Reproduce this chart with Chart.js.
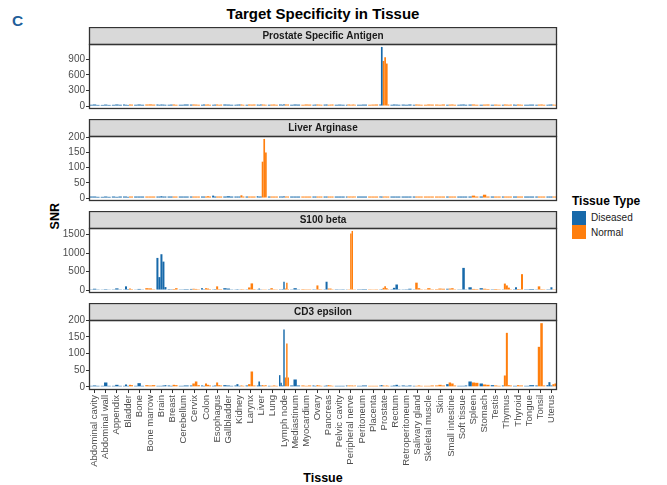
<!DOCTYPE html>
<html>
<head>
<meta charset="utf-8">
<script src="https://cdn.jsdelivr.net/npm/chart.js@4.4.1/dist/chart.umd.min.js"></script>
<style>
  html, body { margin: 0; padding: 0; background: #fff; }
  body { width: 667px; height: 485px; position: relative; overflow: hidden; font-family: 'Liberation Sans', Arial, sans-serif; }
  canvas { position: absolute; left: 0; }
  .txt { position: absolute; white-space: nowrap; line-height: 1; }
  .key { position: absolute; width: 14px; height: 14px; }
</style>
</head>
<body>
<div class="txt" style="left:12px;top:13px;font-size:15.5px;font-weight:bold;color:#1f5f9a">C</div>
<div class="txt" style="left:89px;width:468px;text-align:center;top:6.3px;font-size:15px;font-weight:bold;color:#000">Target Specificity in Tissue</div>
<div class="txt" style="left:89px;width:468px;text-align:center;top:472.4px;font-size:12.5px;font-weight:bold;color:#000">Tissue</div>
<div class="txt" style="left:24.7px;width:60px;height:12.5px;text-align:center;top:210.45px;font-size:12.5px;font-weight:bold;color:#000;transform:rotate(-90deg)">SNR</div>

<div class="txt" style="left:572px;top:194.8px;font-size:12px;font-weight:bold;color:#000">Tissue Type</div>
<div class="key" style="left:572px;top:211px;background:#1769aa"></div>
<div class="key" style="left:572px;top:225px;background:#ff7f0e"></div>
<div class="txt" style="left:591px;top:213.1px;font-size:10px;color:#1a1a1a">Diseased</div>
<div class="txt" style="left:591px;top:228.1px;font-size:10px;color:#1a1a1a">Normal</div>

<canvas id="p0" width="667" height="89" style="top:27px"></canvas>
<canvas id="p1" width="667" height="89" style="top:119px"></canvas>
<canvas id="p2" width="667" height="89" style="top:211px"></canvas>
<canvas id="p3" width="667" height="182" style="top:303px"></canvas>

<script>
const blue = '#1769aa';
const orange = '#ff7f0e';

const tissues = ['Abdominal cavity', 'Abdominal wall', 'Appendix', 'Bladder', 'Bone', 'Bone marrow', 'Brain', 'Breast',
  'Cerebellum', 'Cervix', 'Colon', 'Esophagus', 'Gallbladder', 'Kidney', 'Larynx', 'Liver', 'Lung', 'Lymph node',
  'Mediastinum', 'Myocardium', 'Ovary', 'Pancreas', 'Pelvic cavity', 'Peripheral nerve', 'Peritoneum', 'Placenta',
  'Prostate', 'Rectum', 'Retroperitoneum', 'Salivary gland', 'Skeletal muscle', 'Skin', 'Small intestine',
  'Soft tissue', 'Spleen', 'Stomach', 'Testis', 'Thymus', 'Thyroid', 'Tongue', 'Tonsil', 'Uterus'];

const panelTitles = ['Prostate Specific Antigen', 'Liver Arginase', 'S100 beta', 'CD3 epsilon'];

const psaTicks = [0, 300, 600, 900];
const argTicks = [0, 50, 100, 150, 200];
const s100Ticks = [0, 500, 1000, 1500];
const cd3Ticks = [0, 50, 100, 150, 200];

// one list of samples per tissue
const psaDiseased = [[25, 30, 22], [22, 28, 22], [24, 30, 25], [30, 25, 22], [25, 30, 25], [], [30, 25, 30, 28, 25], [25, 28],
  [25, 30], [28], [25, 30], [25, 28], [30, 28, 25], [25, 28, 30], [25], [28, 25, 30], [25], [30, 28, 25, 35],
  [25, 30, 28], [], [25, 28], [28, 30], [25, 28, 25], [25], [25, 28], [], [30, 1140], [25, 30, 28, 25],
  [28, 25, 30], [25], [], [], [25], [25, 28, 30, 25], [28], [25], [25], [25], [28, 25], [25, 28], [25], [25, 28, 30]];
const psaNormal = [[], [], [], [30, 28], [], [30, 32, 28], [], [30, 25],
  [], [30, 28, 25], [28, 30, 25], [30, 25, 28], [], [30, 25], [30, 28, 30], [30, 28, 25], [28, 30, 25], [30, 28, 30],
  [], [25, 30, 28], [30, 28, 25], [25, 28, 30], [], [28, 30, 25, 28, 30, 25], [], [25, 28, 30], [870, 940, 820, 30], [],
  [], [30, 28, 25], [25, 30, 28], [28, 25, 30], [28, 30, 25], [], [30, 25], [28, 30], [28, 25], [30, 28, 25, 28], [30, 28, 25], [], [28, 30, 25], [28, 25]];

const argDiseased = [[5, 5, 4], [4, 5, 4], [5, 4, 5], [5, 5, 4], [5, 5, 5], [], [5, 5, 6, 5, 5], [5, 5],
  [5, 5], [5], [5, 5], [8, 5], [5, 6, 5], [5, 5, 5], [5], [6, 5, 5], [5], [5, 5, 5, 6],
  [5, 5, 5], [], [5, 5], [5, 5], [5, 5, 5], [5], [5, 5], [], [5, 5], [5, 5, 5, 5],
  [5, 5, 5], [5], [], [], [5], [5, 5, 5, 5], [5], [5], [5], [5], [5, 5], [5, 5], [5], [5, 5, 5]];
const argNormal = [[], [], [], [5, 5], [], [5, 5, 5], [], [5, 5],
  [], [5, 5, 5], [5, 6, 5], [5, 5, 5], [], [9, 5], [5, 5, 5], [120, 195, 150], [5, 5, 5], [5, 5, 5],
  [], [5, 5, 5], [5, 5, 5], [5, 5, 5], [], [5, 5, 5, 5, 5, 5], [], [5, 5, 5], [5, 5, 5, 5], [],
  [], [5, 5, 5], [5, 5, 5], [5, 5, 5], [5, 5, 5], [], [8, 5], [11, 5], [5, 5], [5, 5, 5, 5], [5, 5, 5], [], [5, 5, 5], [5, 5]];

const s100Diseased = [[20, 35, 20], [18, 25, 18], [20, 45, 20], [20, 100, 25], [18, 30, 18], [], [870, 350, 970, 770, 80], [25, 22],
  [20, 25], [30], [50, 22], [20, 25], [50, 40, 20], [20, 25, 18], [20], [20, 40, 22], [22], [22, 22, 25, 225],
  [20, 50, 20], [], [22, 20], [22, 225], [22, 20, 22], [20], [22, 25], [], [22, 25], [22, 60, 150, 22],
  [20, 22, 35], [20], [], [], [35], [20, 20, 600, 20], [75], [50], [22], [20], [22, 75], [22, 28], [20], [22, 22, 75]];
const s100Normal = [[], [], [], [40, 25], [], [50, 45, 22], [], [28, 50],
  [], [35, 30, 22], [50, 40, 25], [100, 25, 25], [], [25, 22], [70, 180, 25], [20, 20, 20], [50, 22, 20], [40, 200, 25],
  [], [25, 22, 22], [125, 25, 22], [40, 40, 22], [], [22, 22, 1530, 1600, 22, 20], [], [22, 20, 22], [60, 100, 50, 22], [],
  [], [200, 50, 22], [20, 50, 22], [25, 40, 35], [40, 50, 22], [], [30, 25], [35, 28], [28, 22], [175, 125, 65, 22], [28, 25, 430], [], [100, 25, 22], [22, 20]];

const cd3Diseased = [[3, 4, 3], [3, 13, 3], [3, 6, 3], [3, 7, 3], [3, 11, 3], [], [3, 3, 3, 4, 5], [4, 3],
  [3, 4], [4], [4, 3], [3, 4], [5, 4, 3], [4, 8, 3], [4], [4, 16, 4], [3], [35, 12, 4, 172],
  [4, 22, 4], [], [4, 3], [3, 4], [3, 3, 3], [4], [3, 4], [], [4, 5], [3, 4, 6, 3],
  [4, 3, 4], [3], [], [], [8], [3, 3, 3, 4], [16], [10], [5], [4], [3, 3], [3, 5], [4], [5, 14, 4]];
const cd3Normal = [[], [], [], [6, 5], [], [5, 4, 5], [], [6, 5],
  [], [10, 16, 5], [10, 6, 4], [13, 5, 4], [], [4, 3], [8, 46, 4], [5, 4, 5], [3, 4, 3], [28, 130, 28],
  [], [4, 3, 4], [5, 4, 3], [5, 4, 3], [], [4, 4, 4, 4, 3, 4], [], [3, 3, 3], [4, 3, 4, 3], [],
  [], [3, 4, 3], [3, 3, 4], [4, 6, 4], [13, 10, 4], [], [13, 12], [7, 6], [4, 3], [34, 162, 5, 4], [5, 4, 4], [], [120, 191, 4], [8, 10]];

const stripH = 17;
const fontFamily = "'Liberation Sans', Arial, sans-serif";
Chart.defaults.font.family = fontFamily;

// strip on top of each panel + the black box round it
const panelFrame = {
  id: 'panelFrame',
  afterDraw(chart, args, opts) {
    const { ctx, chartArea: a } = chart;
    const w = a.right - a.left;
    ctx.save();
    ctx.fillStyle = '#d9d9d9';
    ctx.fillRect(a.left, a.top - stripH, w, stripH);
    ctx.strokeStyle = '#333333';
    ctx.lineWidth = 1.3;
    ctx.strokeRect(a.left + 0.5, a.top - stripH + 0.5, w - 1, stripH);
    ctx.strokeRect(a.left + 0.5, a.top + 0.5, w - 1, a.bottom - a.top - 1);
    ctx.fillStyle = '#1a1a1a';
    ctx.font = 'bold 10px ' + fontFamily;
    ctx.textAlign = 'center';
    ctx.textBaseline = 'middle';
    ctx.fillText(opts.title, a.left + w / 2, a.top - stripH / 2 + 0.5);
    ctx.restore();
  }
};

function buildDatasets(dis, nor) {
  const sets = [];
  const maxD = Math.max(...dis.map(a => a.length));
  const maxN = Math.max(...nor.map(a => a.length));
  for (let k = 0; k < maxD; k++) {
    sets.push({ label: 'Diseased', data: dis.map(a => k < a.length ? a[k] : null), backgroundColor: blue });
  }
  for (let k = 0; k < maxN; k++) {
    sets.push({ label: 'Normal', data: nor.map(a => k < a.length ? a[k] : null), backgroundColor: orange });
  }
  return sets;
}

const panels = [
  { id: 'p0', dis: psaDiseased, nor: psaNormal, ticks: psaTicks },
  { id: 'p1', dis: argDiseased, nor: argNormal, ticks: argTicks },
  { id: 'p2', dis: s100Diseased, nor: s100Normal, ticks: s100Ticks },
  { id: 'p3', dis: cd3Diseased, nor: cd3Normal, ticks: cd3Ticks }
];

panels.forEach((p, i) => {
  const last = i === panels.length - 1;
  const top = Math.max(...p.dis.flat(), ...p.nor.flat());
  new Chart(document.getElementById(p.id), {
    type: 'bar',
    data: { labels: tissues, datasets: buildDatasets(p.dis, p.nor) },
    options: {
      responsive: false,
      animation: false,
      devicePixelRatio: 1,
      layout: { padding: { left: 49, right: 110, top: stripH, bottom: last ? 0 : 2 } },
      datasets: { bar: { skipNull: true, categoryPercentage: 0.9, barPercentage: 1.0, borderWidth: 0 } },
      plugins: {
        legend: { display: false },
        tooltip: { enabled: false },
        panelFrame: { title: panelTitles[i] }
      },
      scales: {
        x: last ? {
          type: 'category', offset: true, stacked: false,
          grid: { offset: false, drawOnChartArea: false, drawTicks: true, tickLength: 3, color: '#333333' },
          border: { display: false },
          ticks: { autoSkip: false, maxRotation: 90, minRotation: 90, color: '#4d4d4d', font: { size: 9.5 }, padding: 2 },
          afterFit: s => { s.height = 95; }
        } : { type: 'category', offset: true, stacked: false, display: false },
        y: {
          stacked: false,
          min: -0.05 * top,
          max: 1.05 * top,
          afterBuildTicks: s => { s.ticks = p.ticks.map(v => ({ value: v })); },
          afterFit: s => { s.width = 40; },
          grid: { drawOnChartArea: false, drawTicks: true, tickLength: 3, color: '#333333' },
          border: { display: false },
          ticks: { color: '#4d4d4d', font: { size: 10 }, padding: 1, callback: v => String(v) }
        }
      }
    },
    plugins: [panelFrame]
  });
});
</script>
</body>
</html>
